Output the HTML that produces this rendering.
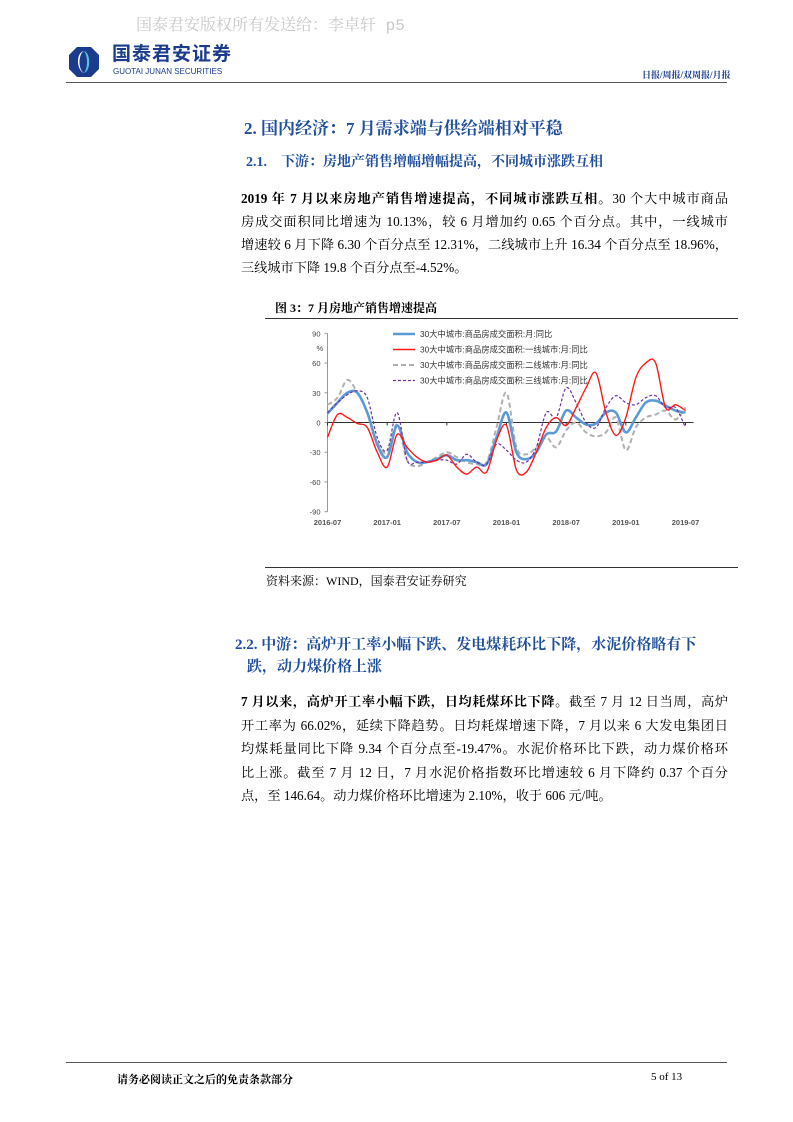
<!DOCTYPE html>
<html><head><meta charset="utf-8">
<style>
body{margin:0;background:#fff;}
#page{position:relative;width:793px;height:1122px;overflow:hidden;background:#fff;font-family:"Liberation Serif","Noto Serif CJK SC",serif;color:#000;}
.abs{position:absolute;white-space:nowrap;}
.ln{position:absolute;left:241px;width:487px;font-size:13.2px;line-height:16px;text-align:justify;text-align-last:justify;white-space:nowrap;}
.ln.last{text-align-last:left;}
.h{color:#1f4e9c;font-weight:bold;font-family:"Liberation Serif","Noto Serif CJK SC",serif;}
</style></head><body>
<div id="page">
<div class="abs" style="left:136px;top:12px;font-size:16px;color:#c8c8c8;font-family:'Liberation Mono','Noto Serif CJK SC',monospace;">国泰君安版权所有发送给：李卓轩 p5</div>
<svg class="abs" style="left:68px;top:46px" width="32" height="32" viewBox="0 0 32 32"><polygon points="9,1 23,1 31,9 31,23 23,31 9,31 1,23 1,9" fill="#1b3c8c"/><path d="M16,5 C10,8 10,24 16,27 C9,25 7,7 16,5Z" fill="#fff"/><path d="M16,5 C23,7 23,25 16,27 C20,22 20,10 16,5Z" fill="#5bc0e0"/></svg>
<div class="abs" style="left:112px;top:44px;font-size:19px;line-height:22px;font-weight:bold;color:#1b3c8c;font-family:'Liberation Sans','Noto Sans CJK SC',sans-serif;letter-spacing:1px;">国泰君安证券</div>
<div class="abs" style="left:113px;top:67px;font-size:8px;line-height:9px;color:#1b3c8c;font-family:'Liberation Sans',sans-serif;">GUOTAI JUNAN SECURITIES</div>
<div class="abs" style="left:642px;top:68px;font-size:9px;font-weight:bold;color:#1b3c8c;">日报/周报/双周报/月报</div>
<div class="abs" style="left:66px;top:82px;width:661px;height:1px;background:#555;"></div>

<div class="abs h" style="left:244px;top:114px;font-size:17px;">2. 国内经济：7 月需求端与供给端相对平稳</div>
<div class="abs h" style="left:246px;top:151px;font-size:14px;">2.1.&nbsp;&nbsp;&nbsp;&nbsp;下游：房地产销售增幅增幅提高，不同城市涨跌互相</div>

<div class="ln" style="top:191px;"><b>2019 年 7 月以来房地产销售增速提高，不同城市涨跌互相。</b>30 个大中城市商品</div>
<div class="ln" style="top:214px;">房成交面积同比增速为 10.13%，较 6 月增加约 0.65 个百分点。其中，一线城市</div>
<div class="ln" style="top:237px;">增速较 6 月下降 6.30 个百分点至 12.31%，二线城市上升 16.34 个百分点至 18.96%，</div>
<div class="ln last" style="top:260px;">三线城市下降 19.8 个百分点至-4.52%。</div>

<div class="abs" style="left:275px;top:299px;font-size:12px;font-weight:bold;">图 3：7 月房地产销售增速提高</div>
<div class="abs" style="left:265px;top:318px;width:473px;height:1px;background:#333;"></div>
<svg class="abs" id="chart" style="left:265px;top:319px" width="473" height="247"></svg>
<div class="abs" style="left:265px;top:567px;width:473px;height:1px;background:#333;"></div>
<div class="abs" style="left:266px;top:572px;font-size:12px;">资料来源：WIND，国泰君安证券研究</div>

<div class="abs h" style="left:235px;top:633px;font-size:15px;">2.2. 中游：高炉开工率小幅下跌、发电煤耗环比下降，水泥价格略有下</div>
<div class="abs h" style="left:247px;top:655px;font-size:15px;">跌，动力煤价格上涨</div>

<div class="ln" style="top:694px;"><b>7 月以来，高炉开工率小幅下跌，日均耗煤环比下降</b>。截至 7 月 12 日当周，高炉</div>
<div class="ln" style="top:718px;">开工率为 66.02%，延续下降趋势。日均耗煤增速下降，7 月以来 6 大发电集团日</div>
<div class="ln" style="top:741px;">均煤耗量同比下降 9.34 个百分点至-19.47%。水泥价格环比下跌，动力煤价格环</div>
<div class="ln" style="top:765px;">比上涨。截至 7 月 12 日，7 月水泥价格指数环比增速较 6 月下降约 0.37 个百分</div>
<div class="ln last" style="top:788px;">点，至 146.64。动力煤价格环比增速为 2.10%，收于 606 元/吨。</div>

<div class="abs" style="left:66px;top:1062px;width:661px;height:1px;background:#555;"></div>
<div class="abs" style="left:117px;top:1071px;font-size:11px;font-weight:bold;">请务必阅读正文之后的免责条款部分</div>
<div class="abs" style="left:651px;top:1071px;font-size:11px;">5 of 13</div>
</div>
<script>
const xLabels=["2016-07","2017-01","2017-07","2018-01","2018-07","2019-01","2019-07"];
const yTicks=[90,60,30,0,-30,-60,-90];
const seriesNames=["30大中城市:商品房成交面积:月:同比","30大中城市:商品房成交面积:一线城市:月:同比","30大中城市:商品房成交面积:二线城市:月:同比","30大中城市:商品房成交面积:三线城市:月:同比"];
const total=[9,20,30,30,10,-22,-35,-3,-30,-40,-40,-37,-33,-38,-38,-40,-42,-15,10,-30,-37,-30,-12,-9,12,5,-2,-1,10,10,-10,5,20,22,17,12,10];
const tier1=[-15,8,5,-1,-5,-30,-45,-12,-25,-35,-40,-38,-33,-45,-52,-45,-50,-18,-3,-48,-50,-30,-5,5,-3,15,35,50,10,-13,5,45,60,60,15,18,12];
const tier2=[18,25,43,30,10,-20,-30,-2,-38,-44,-40,-35,-30,-35,-40,-42,-40,-5,30,-25,-32,-25,-15,-25,-8,0,-10,-14,-10,5,-28,-5,5,8,12,3,15];
const tier3=[10,20,28,32,25,-15,-28,10,-38,-40,-40,-38,-38,-42,-32,-40,-42,-22,-28,-38,-40,-25,10,5,35,20,0,-5,15,27,20,18,25,27,15,15,-5];
const svg=document.getElementById('chart');const NS='http://www.w3.org/2000/svg';
const X0=62.5,X1=420.5,Y0=103.5;
function xs(i){return X0+(X1-X0)*i/36;}
function ys(v){return Y0-v*(89.2/90);}
function mk(t,a){const e=document.createElementNS(NS,t);for(const k in a)e.setAttribute(k,a[k]);svg.appendChild(e);return e;}
let ax=mk('line',{x1:X0,y1:ys(90),x2:X0,y2:ys(-90),stroke:'#999','stroke-width':1});

let zx=mk('line',{x1:X0,y1:ys(0),x2:X1+8,y2:ys(0),stroke:'#333','stroke-width':1});

yTicks.forEach(v=>{const t=mk('text',{x:X0-7,y:ys(v)+3,'text-anchor':'end','font-size':7.5,fill:'#444','font-family':'Liberation Sans,sans-serif'});t.textContent=v;

mk('line',{x1:X0-3,y1:ys(v),x2:X0,y2:ys(v),stroke:'#999'});});
const u=mk('text',{x:X0-11,y:ys(75)+3,'font-size':7.5,fill:'#444','font-family':'Liberation Sans,sans-serif'});u.textContent='%';

xLabels.forEach((l,k)=>{const i=k*6;const t=mk('text',{x:xs(i),y:206,'text-anchor':'middle','font-size':7.5,'font-weight':'bold',fill:'#555','font-family':'Liberation Sans,sans-serif'});t.textContent=l;

mk('line',{x1:xs(i),y1:ys(0),x2:xs(i),y2:ys(0)+3,stroke:'#333'});});
function path(d){const p=d.map((v,i)=>[xs(i),ys(v)]);let s='M'+p[0][0]+','+p[0][1];
for(let i=0;i<p.length-1;i++){const a=p[i-1]||p[i],b=p[i],c=p[i+1],e=p[i+2]||c;
s+=' C'+(b[0]+(c[0]-a[0])/6)+','+(b[1]+(c[1]-a[1])/6)+' '+(c[0]-(e[0]-b[0])/6)+','+(c[1]-(e[1]-b[1])/6)+' '+c[0]+','+c[1];}return s;}
const styles=[{stroke:'#5b9bd5',w:2.6,dash:''},{stroke:'#ff1a1a',w:1.4,dash:''},{stroke:'#b0b0b0',w:2,dash:'5,3'},{stroke:'#7030a0',w:1.2,dash:'3,2'}];
const data=[total,tier1,tier2,tier3];const names=['line-total','line-tier1','line-tier2','line-tier3'];
[2,0,3,1].forEach(k=>{const st=styles[k];const p=mk('path',{d:path(data[k]),fill:'none',stroke:st.stroke,'stroke-width':st.w,'stroke-dasharray':st.dash});
});
seriesNames.forEach((n,k)=>{const st=styles[k];const y=15+k*15.5;
const l=mk('line',{x1:128,y1:y,x2:150,y2:y,stroke:st.stroke,'stroke-width':st.w,'stroke-dasharray':st.dash});

const t=mk('text',{x:155,y:y+3,'font-size':8.3,fill:'#333','font-family':'Liberation Sans,Noto Sans CJK SC,sans-serif'});t.textContent=n;
});
</script>
</body></html>
